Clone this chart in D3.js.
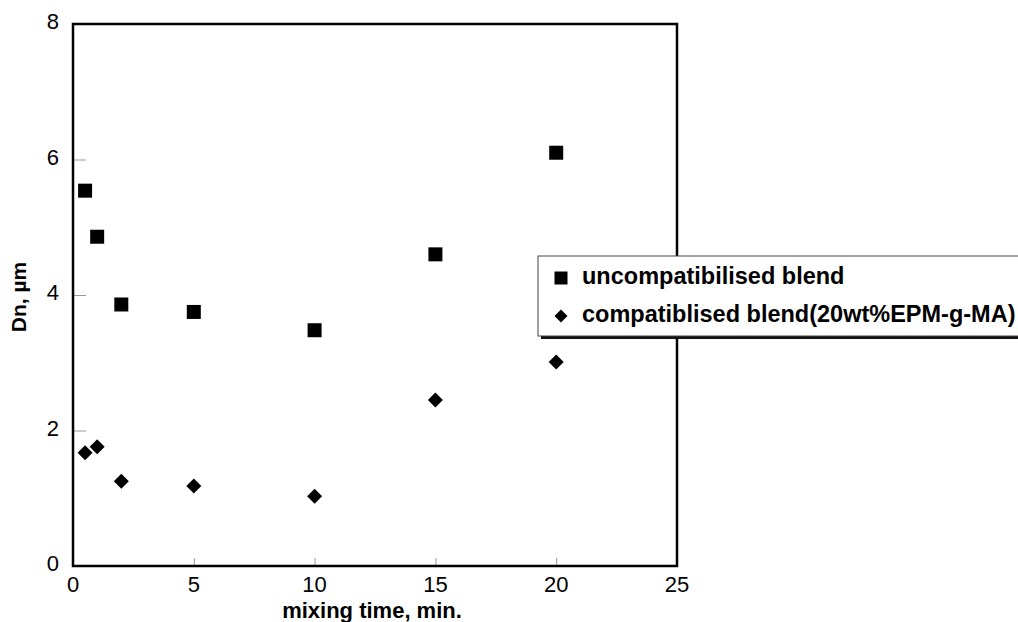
<!DOCTYPE html>
<html>
<head>
<meta charset="utf-8">
<script src="https://cdn.jsdelivr.net/npm/d3@7"></script>
<style>
  html, body { margin: 0; padding: 0; background: #fff; }
  svg { display: block; font-family: "Liberation Sans", Arial, sans-serif; }
</style>
</head>
<body>
<svg id="chart" width="1018" height="622"></svg>
<script>
// Mixing time (min) and number-average droplet diameter Dn (µm)
const mixingTime = [0.5, 1, 2, 5, 10, 15, 20];
const dnUncompatibilised = [5.54, 4.86, 3.86, 3.75, 3.48, 4.60, 6.10];
const dnCompatibilised = [1.67, 1.76, 1.25, 1.18, 1.03, 2.45, 3.01];
const xTicks = [0, 5, 10, 15, 20, 25];
const yTicks = [0, 2, 4, 6, 8];
const seriesNames = ["uncompatibilised blend", "compatiblised blend(20wt%EPM-g-MA)"];

const svg = d3.select("#chart");
const plot = { left: 73, right: 677, top: 24, bottom: 566 };

const x = d3.scaleLinear().domain([0, 25]).range([plot.left, plot.right]);
const y = d3.scaleLinear().domain([0, 8]).range([plot.bottom, plot.top]);

// square and 45°-rotated square markers, sized by edge / half-diagonal
const squarePath = s => `M${-s / 2},${-s / 2}h${s}v${s}h${-s}Z`;
const diamondPath = r => `M0,${-r}L${r},0L0,${r}L${-r},0Z`;

// inner tick marks (gray, pointing into the plot)
const yAxis = d3.axisRight(y).tickValues(yTicks.filter(v => v > 0 && v < 8)).tickSize(13).tickFormat("");
svg.append("g").attr("transform", `translate(${plot.left},0)`).call(yAxis)
  .call(g => g.select(".domain").remove())
  .call(g => g.selectAll("line").attr("stroke", "#999").attr("stroke-width", 1));

const xAxis = d3.axisTop(x).tickValues(xTicks.filter(v => v > 0 && v < 25)).tickSize(8).tickFormat("");
svg.append("g").attr("transform", `translate(0,${plot.bottom})`).call(xAxis)
  .call(g => g.select(".domain").remove())
  .call(g => g.selectAll("line").attr("stroke", "#999").attr("stroke-width", 1));

// tick labels
svg.append("g").selectAll("text").data(yTicks).join("text")
  .attr("x", 59).attr("y", d => y(d) + 5)
  .attr("text-anchor", "end").attr("font-size", 22).attr("fill", "#000")
  .text(d => d);

svg.append("g").selectAll("text").data(xTicks).join("text")
  .attr("x", d => x(d)).attr("y", 592)
  .attr("text-anchor", "middle").attr("font-size", 22).attr("fill", "#000")
  .text(d => d);

// plot frame
svg.append("rect")
  .attr("x", plot.left).attr("y", plot.top)
  .attr("width", plot.right - plot.left).attr("height", plot.bottom - plot.top)
  .attr("fill", "none").attr("stroke", "#000").attr("stroke-width", 2.5);

// axis titles
svg.append("text")
  .attr("x", 372).attr("y", 618)
  .attr("text-anchor", "middle").attr("font-size", 22).attr("font-weight", "bold")
  .text("mixing time, min.");

svg.append("text")
  .attr("transform", "translate(26,297) rotate(-90)")
  .attr("text-anchor", "middle").attr("font-size", 21).attr("font-weight", "bold")
  .text("Dn, µm");

// data markers
svg.append("g").selectAll("path").data(mixingTime).join("path")
  .attr("d", squarePath(14))
  .attr("transform", (d, i) => `translate(${x(d)},${y(dnUncompatibilised[i])})`)
  .attr("fill", "#000");

svg.append("g").selectAll("path").data(mixingTime).join("path")
  .attr("d", diamondPath(7.5))
  .attr("transform", (d, i) => `translate(${x(d)},${y(dnCompatibilised[i])})`)
  .attr("fill", "#000");

// legend box with drop shadow
const lg = svg.append("g");
lg.append("rect").attr("x", 541).attr("y", 259).attr("width", 480).attr("height", 80).attr("fill", "#111");
lg.append("rect").attr("x", 538).attr("y", 256).attr("width", 482).attr("height", 80)
  .attr("fill", "#fff").attr("stroke", "#444").attr("stroke-width", 1);

const legendRows = [
  { name: seriesNames[0], shape: squarePath(13), cy: 278, base: 284 },
  { name: seriesNames[1], shape: diamondPath(6.5), cy: 316, base: 322 }
];
legendRows.forEach(r => {
  lg.append("path").attr("d", r.shape).attr("transform", `translate(561,${r.cy})`).attr("fill", "#000");
  lg.append("text").attr("x", 582).attr("y", r.base)
    .attr("font-size", 23.5).attr("font-weight", "bold").text(r.name);
});
</script>
</body>
</html>
